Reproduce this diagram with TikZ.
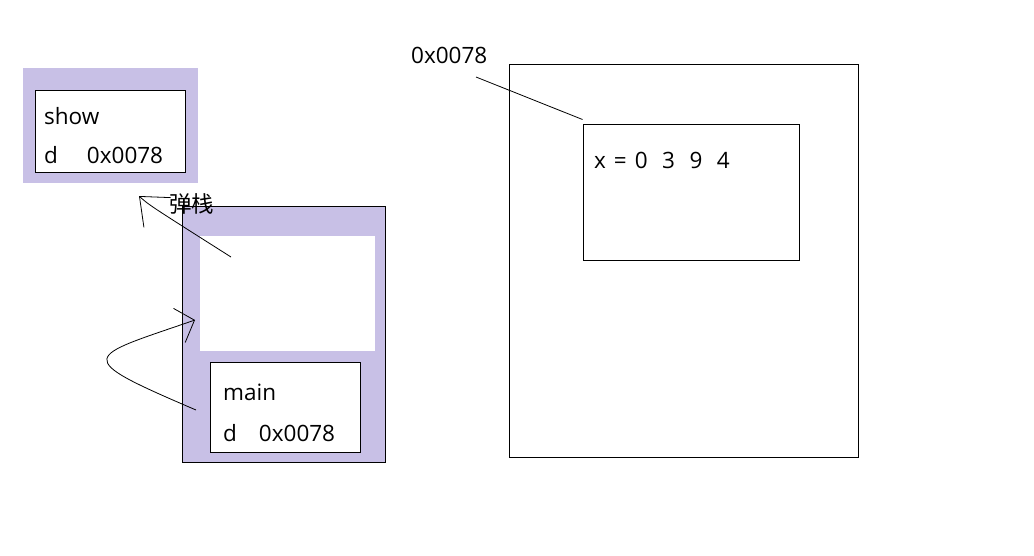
\documentclass[tikz,border=0pt]{standalone}
\usepackage{fontspec}
\setmainfont{Open Sans}
\newfontfamily\cjk{Noto Sans CJK SC}
\usepackage{tikz}
\usetikzlibrary{arrows.meta}
\definecolor{frame}{RGB}{200, 192, 230}
\newcommand*{\fs}{22.5}
\newcommand*{\gap}{\hspace{14.5pt}}

\begin{document}
\begin{tikzpicture}[
   x=1pt, y=-1pt,
   txt/.style={anchor=base west, inner sep=0, font=\fontsize{\fs}{26}\selectfont},
   stackout/.style={rectangle, fill=frame, inner sep=0},
   stackbox/.style={rectangle, draw=black, fill=white, line width=1, inner sep=0,
                    minimum width=150},
   hole/.style={rectangle, fill=white, inner sep=0},
   heapbox/.style={rectangle, draw=black, fill=white, line width=1, inner sep=0},
   hand/.style={line width=0.8, color=black}
  ]

  \useasboundingbox (0, 0) rectangle (1034, 555);

  % Stack frames
  \node (showout) at (110.5, 125.5) [stackout, minimum width=175, minimum height=115] {};
  \node (showbox) at (110, 131) [stackbox, minimum height=82] {};
  \node (showname) at (44, 124) [txt] {show};
  \node (showvar) at (44, 163) [txt] {d\hspace{29pt}0x0078};

  \node (mainout) at (283.5, 334) [stackout, draw=black, line width=1,
                                   minimum width=203, minimum height=256] {};
  \node (mainhole) at (287.5, 293.5) [hole, minimum width=175, minimum height=115] {};
  \node (mainbox) at (285, 407) [stackbox, minimum height=90] {};
  \node (mainname) at (223, 400) [txt] {main};
  \node (mainvar) at (223, 441) [txt] {d\hspace{22pt}0x0078};

  % Heap
  \node (heap) at (683.5, 260.5) [heapbox, minimum width=349, minimum height=393] {};
  \node (arr) at (691, 192) [heapbox, minimum width=216, minimum height=136] {};
  \node (arrval) at (594, 168) [txt] {x\hspace{8pt}=\hspace{8pt}0\gap 3\gap 9\gap 4};
  \node (addr) at (411, 63) [txt] {0x0078};

  \node (pop) at (169, 212) [txt] {\cjk 弹栈};

  \coordinate (addrtail) at (476, 77);
  \coordinate (poptail) at (231, 257);
  \coordinate (pophead) at (139, 196);
  \coordinate (calltail) at (196, 410);
  \coordinate (callhead) at (195, 320);

  \draw[hand] (addrtail) -- ([yshift=4]arr.north west);
  \draw[hand, -{Straight Barb[length=24, width=40]}]
    (poptail) .. controls (149, 205) .. (pophead);
  \draw[hand, -{Straight Barb[length=16, width=36]}]
    (calltail) .. controls (70, 356) and (85, 358) .. (callhead);

\end{tikzpicture}
\end{document}
